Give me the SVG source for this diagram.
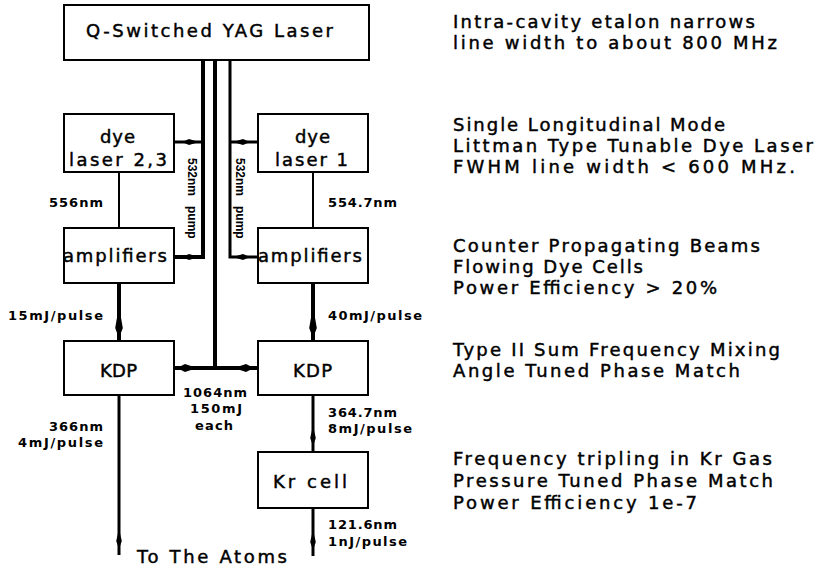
<svg xmlns="http://www.w3.org/2000/svg" width="816" height="569" viewBox="0 0 816 569">
<style>
.box{fill:#fff;stroke:#000;stroke-width:2}
.t{font-family:"DejaVu Sans","Liberation Sans",sans-serif;font-size:18px;fill:#000;stroke:#000;stroke-width:0.45}
.s{font-family:"DejaVu Sans","Liberation Sans",sans-serif;font-size:13px;font-weight:bold;fill:#000}
.r{font-family:"Liberation Sans","DejaVu Sans",sans-serif;font-size:12px;font-weight:bold;fill:#000}
.w{fill:none;stroke:#000}
</style>
<defs>
<marker id="sp1" markerUnits="userSpaceOnUse" markerWidth="30" markerHeight="8" viewBox="-22 -4 30 8" refX="8" refY="0" orient="auto">
<path d="M0,0 L-7,-3 L-17,0 L-7,3 Z" fill="#000"/>
</marker>
<marker id="sp2" markerUnits="userSpaceOnUse" markerWidth="30" markerHeight="10" viewBox="-24 -5 30 10" refX="3" refY="0" orient="auto">
<path d="M0,0 L-8,-4 L-20,0 L-8,4 Z" fill="#000"/>
</marker>
<marker id="sp4" markerUnits="userSpaceOnUse" markerWidth="40" markerHeight="10" viewBox="-36 -5 40 10" refX="3" refY="0" orient="auto">
<path d="M0,0 L-10,-3.8 L-32,0 L-10,3.8 Z" fill="#000"/>
</marker>
<marker id="sp3" markerUnits="userSpaceOnUse" markerWidth="30" markerHeight="8" viewBox="-24 -4 30 8" refX="6" refY="0" orient="auto">
<path d="M0,0 L-8,-2.8 L-20,0 L-8,2.8 Z" fill="#000"/>
</marker>
</defs>

<g id="connectors">
<path class="w" stroke-width="4" d="M215,60 V368"/>
<path class="w" stroke-width="4" d="M203,60 V257 H174" marker-end="url(#sp1)"/>
<path class="w" stroke-width="3" d="M203,142 H174" marker-end="url(#sp1)"/>
<path class="w" stroke-width="3" d="M230,60 V257 H258" marker-end="url(#sp1)"/>
<path class="w" stroke-width="3" d="M230,142 H258" marker-end="url(#sp1)"/>
<path class="w" stroke-width="4" d="M215,368 H174" marker-end="url(#sp2)"/>
<path class="w" stroke-width="4" d="M215,368 H257" marker-end="url(#sp2)"/>
<path class="w" stroke-width="2" d="M119,172 V228"/>
<path class="w" stroke-width="2" d="M313,172 V228"/>
<path class="w" stroke-width="4" d="M119,283 V341" marker-end="url(#sp4)"/>
<path class="w" stroke-width="4" d="M313,283 V341" marker-end="url(#sp4)"/>
<path class="w" stroke-width="3" d="M119,395 V555" marker-end="url(#sp3)"/>
<path class="w" stroke-width="3" d="M313,395 V452" marker-end="url(#sp3)"/>
<path class="w" stroke-width="3" d="M313,508 V556" marker-end="url(#sp3)"/>
</g>

<g id="yag">
<rect class="box" x="64" y="5" width="305" height="55"/>
<text class="t" x="86" y="37" textLength="247" lengthAdjust="spacing">Q-Switched YAG Laser</text>
</g>
<g id="dye23">
<rect class="box" x="64" y="114" width="110" height="58"/>
<text class="t" x="100" y="143" textLength="35" lengthAdjust="spacing">dye</text>
<text class="t" x="69" y="166" textLength="98" lengthAdjust="spacing">laser 2,3</text>
</g>
<g id="dye1">
<rect class="box" x="258" y="114" width="110" height="58"/>
<text class="t" x="295" y="143" textLength="35" lengthAdjust="spacing">dye</text>
<text class="t" x="275" y="166" textLength="73" lengthAdjust="spacing">laser 1</text>
</g>
<g id="ampL">
<rect class="box" x="64" y="228" width="110" height="55"/>
<text class="t" x="63" y="262" textLength="104" lengthAdjust="spacing">amplifiers</text>
</g>
<g id="ampR">
<rect class="box" x="258" y="228" width="110" height="55"/>
<text class="t" x="258" y="262" textLength="104" lengthAdjust="spacing">amplifiers</text>
</g>
<g id="kdpL">
<rect class="box" x="64" y="341" width="110" height="54"/>
<text class="t" x="100" y="377" textLength="37" lengthAdjust="spacing">KDP</text>
</g>
<g id="kdpR">
<rect class="box" x="258" y="341" width="110" height="54"/>
<text class="t" x="293" y="377" textLength="39" lengthAdjust="spacing">KDP</text>
</g>
<g id="krcell">
<rect class="box" x="258" y="452" width="110" height="56"/>
<text class="t" x="273" y="488" textLength="74" lengthAdjust="spacing">Kr cell</text>
</g>
<g id="atoms">
<text class="t" x="137" y="563" textLength="150" lengthAdjust="spacing">To The Atoms</text>
</g>

<g id="labels">
<text class="r" transform="translate(188,158) rotate(90)"><tspan x="0">532nm</tspan> <tspan x="48">pump</tspan></text>
<text class="r" transform="translate(236,158) rotate(90)"><tspan x="0">532nm</tspan> <tspan x="48">pump</tspan></text>
<text class="s" x="49" y="207" textLength="54" lengthAdjust="spacing">556nm</text>
<text class="s" x="328" y="207" textLength="69" lengthAdjust="spacing">554.7nm</text>
<text class="s" x="8" y="320" textLength="95" lengthAdjust="spacing">15mJ/pulse</text>
<text class="s" x="328" y="320" textLength="94" lengthAdjust="spacing">40mJ/pulse</text>
<text class="s" x="183" y="397" textLength="64" lengthAdjust="spacing">1064nm</text>
<text class="s" x="190" y="413" textLength="52" lengthAdjust="spacing">150mJ</text>
<text class="s" x="195" y="430" textLength="38" lengthAdjust="spacing">each</text>
<text class="s" x="49" y="431" textLength="54" lengthAdjust="spacing">366nm</text>
<text class="s" x="18" y="447" textLength="85" lengthAdjust="spacing">4mJ/pulse</text>
<text class="s" x="328" y="417" textLength="69" lengthAdjust="spacing">364.7nm</text>
<text class="s" x="328" y="433" textLength="84" lengthAdjust="spacing">8mJ/pulse</text>
<text class="s" x="328" y="529" textLength="69" lengthAdjust="spacing">121.6nm</text>
<text class="s" x="328" y="546" textLength="79" lengthAdjust="spacing">1nJ/pulse</text>
</g>

<g id="notes">
<text class="t" x="453" y="28" textLength="302" lengthAdjust="spacing">Intra-cavity etalon narrows</text>
<text class="t" x="453" y="49" textLength="324" lengthAdjust="spacing">line width to about 800 MHz</text>
<text class="t" x="453" y="131" textLength="272" lengthAdjust="spacing">Single Longitudinal Mode</text>
<text class="t" x="453" y="152" textLength="360" lengthAdjust="spacing">Littman Type Tunable Dye Laser</text>
<text class="t" x="453" y="173" textLength="342" lengthAdjust="spacing">FWHM line width &lt; 600 MHz.</text>
<text class="t" x="453" y="252" textLength="307" lengthAdjust="spacing">Counter Propagating Beams</text>
<text class="t" x="453" y="273" textLength="190" lengthAdjust="spacing">Flowing Dye Cells</text>
<text class="t" x="453" y="294" textLength="264" lengthAdjust="spacing">Power Efficiency &gt; 20%</text>
<text class="t" x="453" y="356" textLength="327" lengthAdjust="spacing">Type II Sum Frequency Mixing</text>
<text class="t" x="453" y="377" textLength="287" lengthAdjust="spacing">Angle Tuned Phase Match</text>
<text class="t" x="453" y="465" textLength="319" lengthAdjust="spacing">Frequency tripling in Kr Gas</text>
<text class="t" x="453" y="487" textLength="320" lengthAdjust="spacing">Pressure Tuned Phase Match</text>
<text class="t" x="453" y="509" textLength="244" lengthAdjust="spacing">Power Efficiency 1e-7</text>
</g>
</svg>
